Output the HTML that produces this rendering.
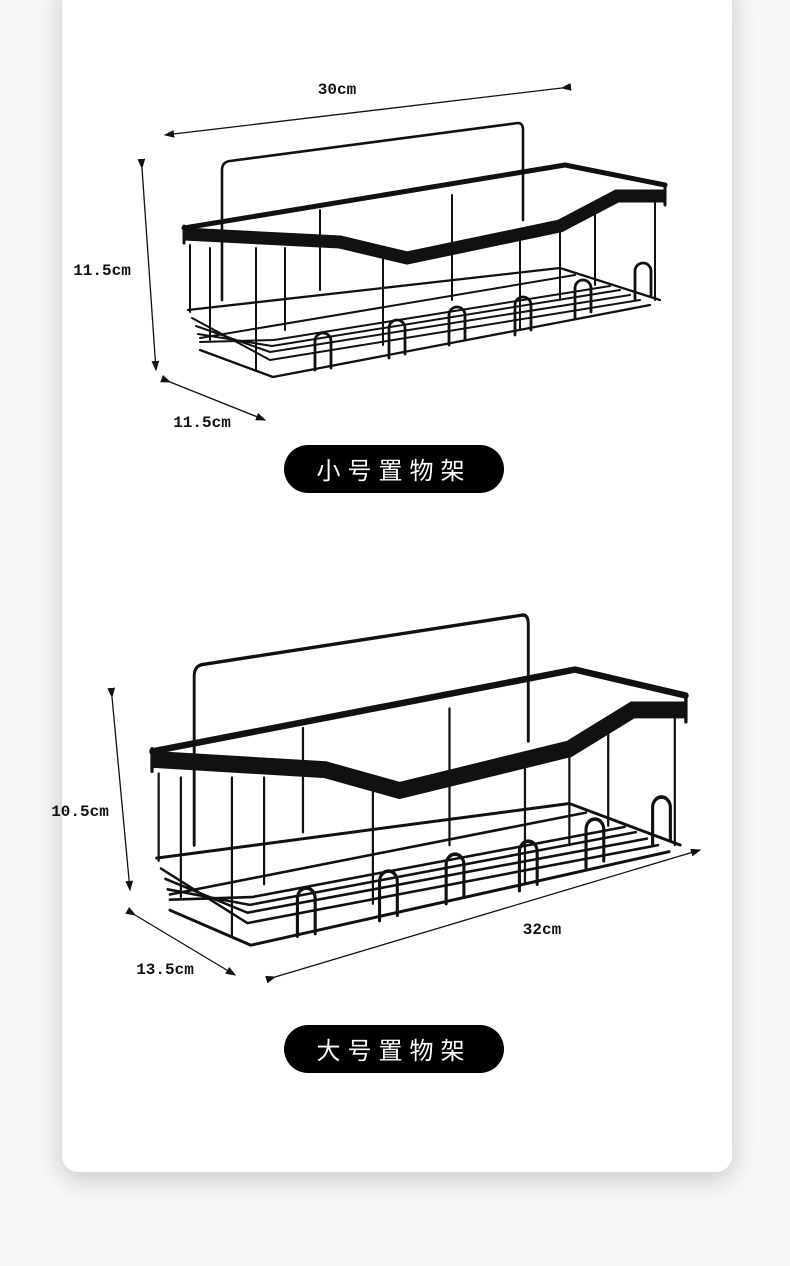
<!DOCTYPE html>
<html><head><meta charset="utf-8"><style>
html,body{margin:0;padding:0;background:#f8f8f8;}
body{width:790px;height:1266px;position:relative;overflow:hidden;font-family:"Liberation Sans","Noto Sans CJK SC",sans-serif;}
.card{position:absolute;left:62px;top:-20px;width:670px;height:1192px;background:#fff;border-radius:16px;box-shadow:0 6px 28px rgba(0,0,0,0.22);}
.lab{position:absolute;font-family:"Liberation Mono",monospace;font-size:16px;font-weight:bold;color:#111;white-space:nowrap;transform:translate(-50%,-50%);}
.pill{position:absolute;background:#000;color:#fff;border-radius:24px;height:48px;line-height:48px;text-align:center;font-size:24px;letter-spacing:7px;font-family:"Noto Sans CJK SC",sans-serif;}
svg{position:absolute;left:0;top:0;}
</style></head><body>
<div class="card"></div>
<svg width="790" height="1266" viewBox="0 0 790 1266">
<defs>
<marker id="ar" markerWidth="8" markerHeight="6" refX="7" refY="3" orient="auto"><path d="M0,0 L8,3 L0,6 Z" fill="#111"/></marker>
<g id="rack" fill="none" stroke="#111" stroke-linecap="round" stroke-linejoin="round">
<path d="M222,300 V170 Q222,162 230,161 L518,123 Q523,123 523,130 V220" stroke-width="2.6"/>
<path d="M188,310 L560,268 L660,300" stroke-width="2.3"/>
<path d="M200,350 L273,377 L650,305" stroke-width="2.3"/>
<path d="M192,318 L270,360 L640,300 M196,326 L270,352 L630,295 M198,334 L272,346 L620,290 M200,342 L274,340 L610,286 M200,338 L575,275" stroke-width="2"/>
<path d="M190,245 V312 M210,248 V340 M256,248 V370 M285,248 V330 M383,258 V345 M452,195 V300 M520,230 V330 M560,226 V300 M595,205 V285 M655,200 V300 M320,210 V290" stroke-width="2"/>
<path d="M315,370 V341 A8,8 0 0 1 331,341 V368 M389,358 V328 A8,8 0 0 1 405,328 V354 M449,345 V315 A8,8 0 0 1 465,315 V340 M515,335 V305 A8,8 0 0 1 531,305 V330 M575,318 V288 A8,8 0 0 1 591,288 V312 M635,300 V271 A8,8 0 0 1 651,271 V296" stroke-width="2.8"/>
<path d="M184,228 L565,165 L665,185" stroke-width="5"/>
<path d="M184,234 L340,242 L407,258 L560,226 L617,196 L665,196" stroke-width="13" stroke-linejoin="miter" stroke-linecap="butt"/>
<path d="M184,226 V243 M665,186 V205" stroke-width="3"/>
</g>
</defs>
<use href="#rack"/>
<use href="#rack" transform="translate(152,615) scale(1.11,1.3) translate(-184,-123)"/>
<g stroke="#111" stroke-width="1.3" fill="none">
<line x1="562" y1="88" x2="165" y2="135" marker-end="url(#ar)" marker-start="url(#ar)"/>
<line x1="142" y1="168" x2="156" y2="370" marker-end="url(#ar)" marker-start="url(#ar)"/>
<line x1="170" y1="382" x2="265" y2="420" marker-end="url(#ar)" marker-start="url(#ar)"/>
<line x1="112" y1="697" x2="130" y2="890" marker-end="url(#ar)" marker-start="url(#ar)"/>
<line x1="135" y1="915" x2="235" y2="975" marker-end="url(#ar)" marker-start="url(#ar)"/>
<line x1="275" y1="977" x2="700" y2="850" marker-end="url(#ar)" marker-start="url(#ar)"/>
</g>
</svg>
<div class="lab" style="left:337px;top:90px">30cm</div>
<div class="lab" style="left:102px;top:271px">11.5cm</div>
<div class="lab" style="left:202px;top:423px">11.5cm</div>
<div class="lab" style="left:80px;top:812px">10.5cm</div>
<div class="lab" style="left:165px;top:970px">13.5cm</div>
<div class="lab" style="left:542px;top:930px">32cm</div>
<div class="pill" style="left:284px;top:445px;width:220px;">小号置物架</div>
<div class="pill" style="left:284px;top:1025px;width:220px;">大号置物架</div>
</body></html>
